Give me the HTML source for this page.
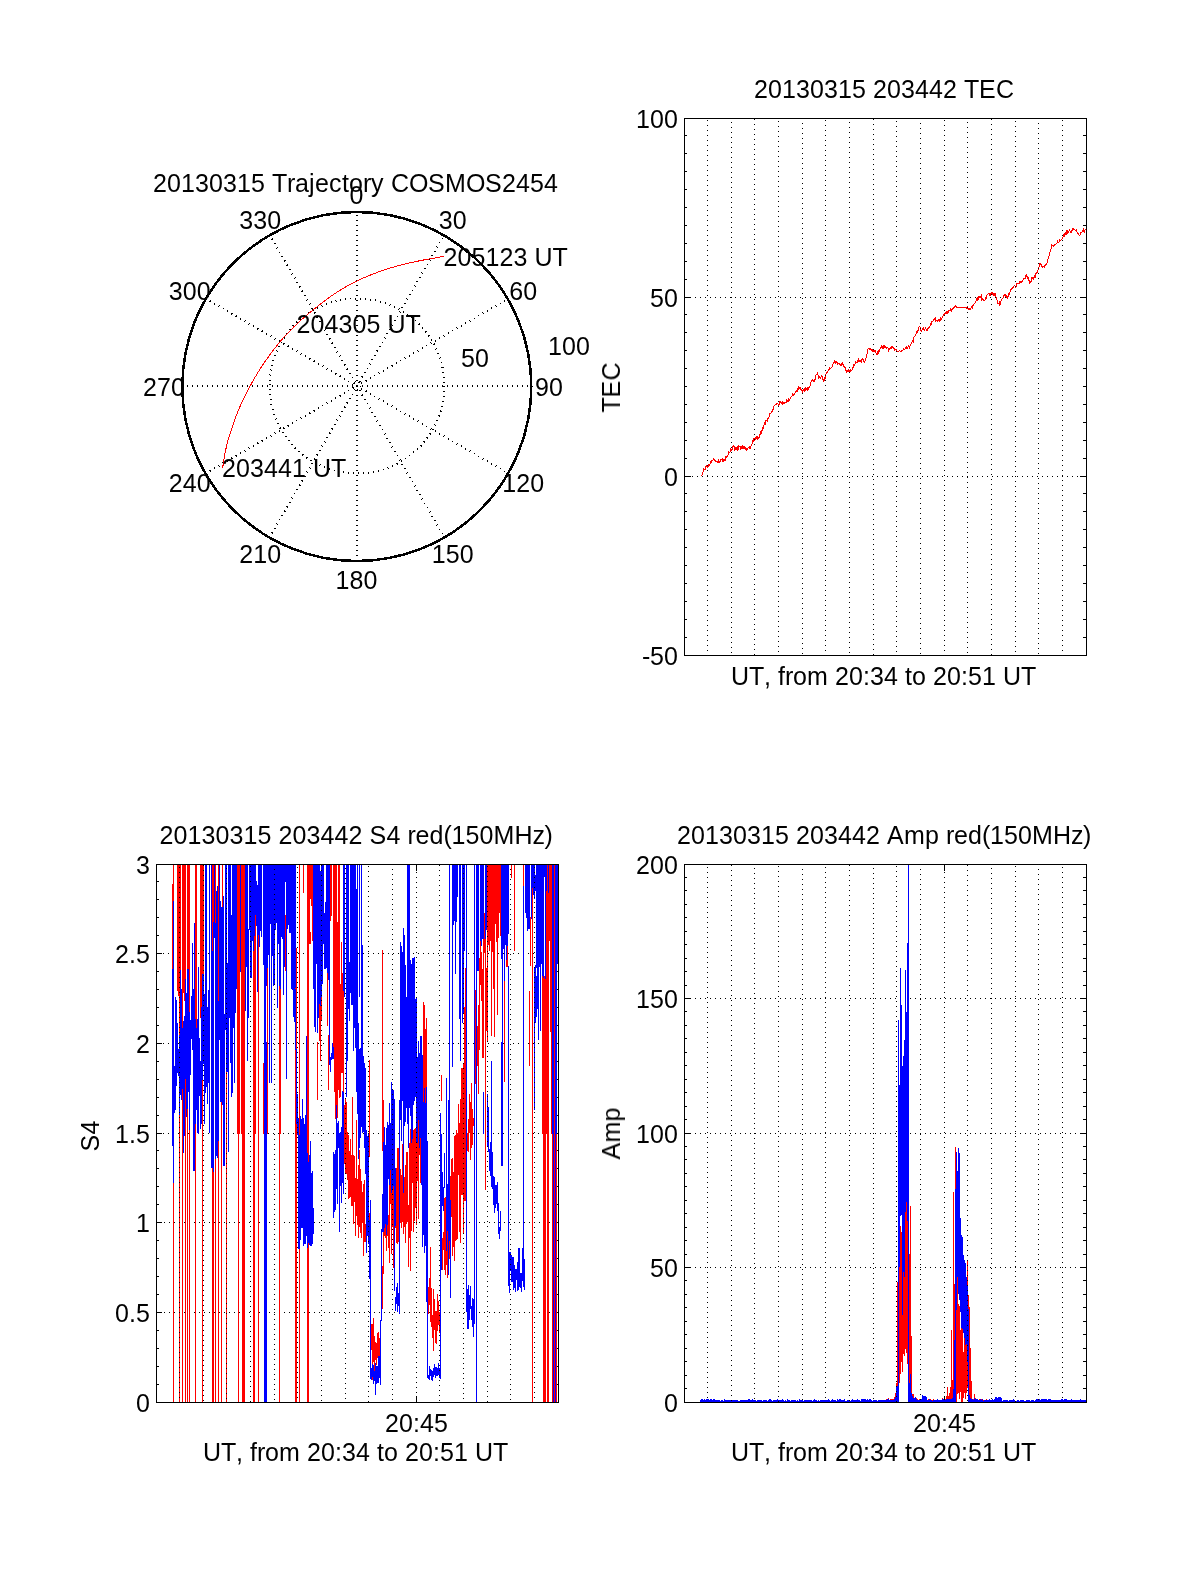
<!DOCTYPE html>
<html><head><meta charset="utf-8"><title>figure</title>
<style>
html,body{margin:0;padding:0;background:#fff;}
svg{display:block;}
text{font-family:"Liberation Sans",sans-serif;fill:#000;font-kerning:none;white-space:pre;}
.tx{opacity:0.999;}
.ax{fill:#000;shape-rendering:crispEdges;}
.dot{stroke:#000;stroke-width:1;stroke-dasharray:1 4;shape-rendering:crispEdges;fill:none;}
.r{fill:#f00;shape-rendering:crispEdges;}
.b{fill:#00f;shape-rendering:crispEdges;}
.pdot{stroke:#000;stroke-width:2;stroke-dasharray:1 4;fill:none;shape-rendering:crispEdges;}
.rl{stroke:#f00;stroke-width:1;fill:none;shape-rendering:crispEdges;}
.bl{stroke:#00f;stroke-width:1;fill:none;shape-rendering:crispEdges;}
</style></head><body>
<svg width="1200" height="1575" viewBox="0 0 1200 1575">
<rect x="0" y="0" width="1200" height="1575" fill="#fff"/>
<line class="dot" x1="695" y1="297.5" x2="1080" y2="297.5"/>
<rect class="ax" x="685" y="297" width="6" height="1"/>
<rect class="ax" x="1080" y="297" width="6" height="1"/>
<line class="dot" x1="692" y1="476.5" x2="1080" y2="476.5"/>
<rect class="ax" x="685" y="476" width="6" height="1"/>
<rect class="ax" x="1080" y="476" width="6" height="1"/>
<rect class="ax" x="685" y="135" width="2" height="1"/>
<rect class="ax" x="1083" y="135" width="3" height="1"/>
<rect class="ax" x="685" y="153" width="2" height="1"/>
<rect class="ax" x="1083" y="153" width="3" height="1"/>
<rect class="ax" x="685" y="171" width="2" height="1"/>
<rect class="ax" x="1083" y="171" width="3" height="1"/>
<rect class="ax" x="685" y="189" width="2" height="1"/>
<rect class="ax" x="1083" y="189" width="3" height="1"/>
<rect class="ax" x="685" y="207" width="2" height="1"/>
<rect class="ax" x="1083" y="207" width="3" height="1"/>
<rect class="ax" x="685" y="225" width="2" height="1"/>
<rect class="ax" x="1083" y="225" width="3" height="1"/>
<rect class="ax" x="685" y="243" width="2" height="1"/>
<rect class="ax" x="1083" y="243" width="3" height="1"/>
<rect class="ax" x="685" y="261" width="2" height="1"/>
<rect class="ax" x="1083" y="261" width="3" height="1"/>
<rect class="ax" x="685" y="279" width="2" height="1"/>
<rect class="ax" x="1083" y="279" width="3" height="1"/>
<rect class="ax" x="685" y="314" width="2" height="1"/>
<rect class="ax" x="1083" y="314" width="3" height="1"/>
<rect class="ax" x="685" y="332" width="2" height="1"/>
<rect class="ax" x="1083" y="332" width="3" height="1"/>
<rect class="ax" x="685" y="350" width="2" height="1"/>
<rect class="ax" x="1083" y="350" width="3" height="1"/>
<rect class="ax" x="685" y="368" width="2" height="1"/>
<rect class="ax" x="1083" y="368" width="3" height="1"/>
<rect class="ax" x="685" y="386" width="2" height="1"/>
<rect class="ax" x="1083" y="386" width="3" height="1"/>
<rect class="ax" x="685" y="404" width="2" height="1"/>
<rect class="ax" x="1083" y="404" width="3" height="1"/>
<rect class="ax" x="685" y="422" width="2" height="1"/>
<rect class="ax" x="1083" y="422" width="3" height="1"/>
<rect class="ax" x="685" y="440" width="2" height="1"/>
<rect class="ax" x="1083" y="440" width="3" height="1"/>
<rect class="ax" x="685" y="458" width="2" height="1"/>
<rect class="ax" x="1083" y="458" width="3" height="1"/>
<rect class="ax" x="685" y="493" width="2" height="1"/>
<rect class="ax" x="1083" y="493" width="3" height="1"/>
<rect class="ax" x="685" y="511" width="2" height="1"/>
<rect class="ax" x="1083" y="511" width="3" height="1"/>
<rect class="ax" x="685" y="529" width="2" height="1"/>
<rect class="ax" x="1083" y="529" width="3" height="1"/>
<rect class="ax" x="685" y="547" width="2" height="1"/>
<rect class="ax" x="1083" y="547" width="3" height="1"/>
<rect class="ax" x="685" y="565" width="2" height="1"/>
<rect class="ax" x="1083" y="565" width="3" height="1"/>
<rect class="ax" x="685" y="583" width="2" height="1"/>
<rect class="ax" x="1083" y="583" width="3" height="1"/>
<rect class="ax" x="685" y="601" width="2" height="1"/>
<rect class="ax" x="1083" y="601" width="3" height="1"/>
<rect class="ax" x="685" y="619" width="2" height="1"/>
<rect class="ax" x="1083" y="619" width="3" height="1"/>
<rect class="ax" x="685" y="637" width="2" height="1"/>
<rect class="ax" x="1083" y="637" width="3" height="1"/>
<polyline class="rl" points="700.8,476.5 701.3,475.8 701.8,475.8 702.3,473.2 702.8,472.2 703.3,471.3 703.8,468.9 704.3,469.3 704.8,469.2 705.3,469.2 705.8,466.5 706.3,466.7 706.8,465.5 707.3,467.3 707.8,466.4 708.3,463.8 708.8,466.3 709.3,465.8 709.8,464.3 710.3,463.7 710.8,461.7 711.3,460.8 711.8,462.0 712.3,460.1 712.8,460.1 713.3,459.9 713.8,458.8 714.3,459.8 714.8,459.8 715.3,461.4 715.8,460.7 716.3,461.4 716.8,461.2 717.3,462.0 717.8,461.2 718.3,460.4 718.8,462.6 719.3,462.4 719.8,461.7 720.3,461.1 720.8,459.7 721.3,459.4 721.8,459.6 722.3,458.9 722.8,461.2 723.3,460.0 723.8,461.4 724.3,459.9 724.8,460.9 725.3,459.8 725.8,456.2 726.3,456.1 726.8,457.5 727.3,455.2 727.8,456.0 728.3,453.5 728.8,451.8 729.3,452.9 729.8,452.7 730.3,450.3 730.8,449.1 731.3,449.3 731.8,450.7 732.3,449.4 732.8,446.8 733.3,446.6 733.8,445.7 734.3,446.2 734.8,449.2 735.3,447.9 735.8,449.7 736.3,449.4 736.8,448.1 737.3,449.5 737.8,447.1 738.3,448.4 738.8,446.3 739.3,446.8 739.8,446.0 740.3,446.3 740.8,448.6 741.3,448.1 741.8,446.6 742.3,448.5 742.8,446.4 743.3,447.0 743.8,448.6 744.3,448.0 744.8,446.6 745.3,449.7 745.8,447.6 746.3,448.0 746.8,450.0 747.3,448.6 747.8,448.3 748.3,447.3 748.8,447.1 749.3,448.4 749.8,447.1 750.3,448.0 750.8,446.5 751.3,445.2 751.8,445.3 752.3,442.3 752.8,441.0 753.3,441.4 753.8,438.8 754.3,438.4 754.8,440.5 755.3,439.8 755.8,437.6 756.3,437.1 756.8,438.5 757.3,438.9 757.8,436.4 758.3,438.7 758.8,438.4 759.3,437.3 759.8,435.5 760.3,433.3 760.8,431.9 761.3,433.6 761.8,430.1 762.3,430.2 762.8,427.4 763.3,427.8 763.8,425.7 764.3,423.7 764.8,422.5 765.3,423.5 765.8,420.7 766.3,420.4 766.8,420.7 767.3,420.9 767.8,419.3 768.3,417.4 768.8,418.5 769.3,415.3 769.8,413.8 770.3,413.7 770.8,413.5 771.3,411.6 771.8,411.2 772.3,411.1 772.8,411.0 773.3,407.6 773.8,406.2 774.3,405.9 774.8,405.5 775.3,404.6 775.8,404.9 776.3,404.8 776.8,403.5 777.3,403.4 777.8,403.0 778.3,405.3 778.8,404.1 779.3,404.5 779.8,401.0 780.3,402.4 780.8,402.4 781.3,403.7 781.8,402.9 782.3,405.3 782.8,402.0 783.3,403.1 783.8,403.4 784.3,403.6 784.8,402.7 785.3,402.3 785.8,402.2 786.3,402.3 786.8,400.3 787.3,401.0 787.8,401.4 788.3,401.1 788.8,399.3 789.3,400.3 789.8,400.1 790.3,398.4 790.8,397.8 791.3,396.3 791.8,396.2 792.3,395.6 792.8,393.5 793.3,394.7 793.8,395.4 794.3,394.5 794.8,393.5 795.3,391.9 795.8,392.6 796.3,391.5 796.8,390.5 797.3,391.2 797.8,388.2 798.3,389.7 798.8,386.8 799.3,388.1 799.8,387.6 800.3,387.4 800.8,389.4 801.3,389.4 801.8,390.3 802.3,391.9 802.8,390.4 803.3,389.7 803.8,390.2 804.3,390.9 804.8,388.8 805.3,388.2 805.8,390.1 806.3,389.1 806.8,388.4 807.3,389.9 807.8,388.0 808.3,389.1 808.8,387.6 809.3,387.1 809.8,386.7 810.3,385.5 810.8,383.8 811.3,380.6 811.8,381.2 812.3,380.2 812.8,379.5 813.3,380.6 813.8,381.6 814.3,381.3 814.8,379.6 815.3,379.2 815.8,375.8 816.3,374.3 816.8,374.0 817.3,373.2 817.8,374.2 818.3,376.0 818.8,377.9 819.3,377.3 819.8,376.5 820.3,377.9 820.8,378.2 821.3,376.2 821.8,375.6 822.3,376.6 822.8,380.4 823.3,378.8 823.8,382.1 824.3,380.2 824.8,378.0 825.3,378.1 825.8,374.2 826.3,373.2 826.8,372.8 827.3,370.7 827.8,372.6 828.3,370.0 828.8,369.1 829.3,368.1 829.8,369.4 830.3,368.1 830.8,368.1 831.3,367.5 831.8,367.2 832.3,366.9 832.8,365.3 833.3,363.0 833.8,363.2 834.3,361.5 834.8,360.7 835.3,362.4 835.8,363.3 836.3,361.7 836.8,362.2 837.3,362.6 837.8,363.9 838.3,363.4 838.8,363.8 839.3,364.4 839.8,363.4 840.3,364.8 840.8,365.2 841.3,362.7 841.8,365.5 842.3,365.0 842.8,363.2 843.3,364.4 843.8,365.8 844.3,367.6 844.8,366.8 845.3,368.4 845.8,370.3 846.3,370.9 846.8,372.3 847.3,370.7 847.8,371.2 848.3,369.7 848.8,371.3 849.3,371.5 849.8,370.9 850.3,371.1 850.8,369.4 851.3,370.8 851.8,370.2 852.3,369.3 852.8,367.1 853.3,367.1 853.8,364.8 854.3,365.8 854.8,365.1 855.3,363.0 855.8,361.7 856.3,362.3 856.8,362.2 857.3,362.4 857.8,361.0 858.3,359.6 858.8,362.2 859.3,359.9 859.8,362.3 860.3,360.4 860.8,361.0 861.3,362.5 861.8,359.6 862.3,358.9 862.8,359.2 863.3,359.9 863.8,361.5 864.3,362.2 864.8,362.0 865.3,359.5 865.8,360.0 866.3,356.2 866.8,354.9 867.3,353.2 867.8,349.7 868.3,348.3 868.8,348.4 869.3,348.3 869.8,349.7 870.3,349.1 870.8,348.6 871.3,349.2 871.8,351.0 872.3,351.3 872.8,349.2 873.3,351.4 873.8,351.9 874.3,350.7 874.8,351.6 875.3,351.1 875.8,352.9 876.3,353.5 876.8,354.5 877.3,352.7 877.8,354.7 878.3,352.3 878.8,350.9 879.3,351.2 879.8,349.4 880.3,348.2 880.8,348.2 881.3,346.1 881.8,347.5 882.3,347.0 882.8,348.6 883.3,348.4 883.8,346.3 884.3,346.9 884.8,345.8 885.3,346.8 885.8,348.0 886.3,348.3 886.8,347.3 887.3,347.3 887.8,347.4 888.3,349.3 888.8,350.8 889.3,348.7 889.8,350.3 890.3,347.4 890.8,347.5 891.3,347.1 891.8,348.1 892.3,346.4 892.8,347.0 893.3,348.4 893.8,347.2 894.3,349.7 894.8,348.3 895.3,350.0 895.8,349.6 896.3,349.8 896.8,351.3 897.3,351.4 897.8,351.7 898.3,351.9 898.8,352.0 899.3,350.5 899.8,350.4 900.3,351.4 900.8,351.2 901.3,350.5 901.8,351.3 902.3,350.2 902.8,350.8 903.3,348.5 903.8,349.9 904.3,349.9 904.8,349.9 905.3,347.8 905.8,347.5 906.3,349.2 906.8,346.6 907.3,348.8 907.8,348.1 908.3,345.4 908.8,345.9 909.3,348.2 909.8,347.4 910.3,344.5 910.8,344.4 911.3,342.4 911.8,343.2 912.3,340.7 912.8,341.2 913.3,341.8 913.8,337.8 914.3,336.5 914.8,336.1 915.3,335.7 915.8,335.3 916.3,331.9 916.8,332.5 917.3,332.6 917.8,330.9 918.3,330.5 918.8,327.9 919.3,326.6 919.8,326.2 920.3,327.2 920.8,330.0 921.3,331.1 921.8,331.0 922.3,329.0 922.8,328.5 923.3,328.0 923.8,329.4 924.3,330.1 924.8,330.1 925.3,327.6 925.8,327.7 926.3,330.8 926.8,329.3 927.3,329.9 927.8,328.1 928.3,328.1 928.8,327.9 929.3,327.2 929.8,327.0 930.3,324.0 930.8,324.9 931.3,324.2 931.8,321.5 932.3,321.8 932.8,322.1 933.3,320.5 933.8,319.2 934.3,318.5 934.8,319.7 935.3,318.3 935.8,321.2 936.3,321.0 936.8,320.8 937.3,321.3 937.8,320.5 938.3,319.7 938.8,320.2 939.3,319.8 939.8,321.2 940.3,320.3 940.8,317.8 941.3,319.2 941.8,318.0 942.3,317.4 942.8,316.8 943.3,314.8 943.8,315.6 944.3,314.9 944.8,313.6 945.3,313.1 945.8,312.4 946.3,311.6 946.8,313.3 947.3,311.9 947.8,313.1 948.3,312.8 948.8,310.6 949.3,310.9 949.8,311.0 950.3,310.5 950.8,309.0 951.3,311.1 951.8,309.9 952.3,308.6 952.8,309.4 953.3,308.8 953.8,308.1 954.3,306.7 954.8,307.8 955.3,305.7 955.8,305.0 956.3,307.4 956.8,307.0 957.3,307.0 957.8,307.0 958.3,307.0 958.8,307.0 959.3,307.0 959.8,307.0 960.3,307.0 960.8,307.0 961.3,307.0 961.8,307.0 962.3,307.0 962.8,307.0 963.3,307.0 963.8,307.0 964.3,307.0 964.8,307.0 965.3,307.0 965.8,307.0 966.3,307.0 966.8,308.9 967.3,306.3 967.8,308.6 968.3,309.4 968.8,308.2 969.3,309.1 969.8,308.4 970.3,309.2 970.8,308.8 971.3,306.9 971.8,306.5 972.3,307.6 972.8,305.4 973.3,304.3 973.8,305.1 974.3,303.2 974.8,303.9 975.3,302.1 975.8,302.0 976.3,299.0 976.8,300.0 977.3,300.1 977.8,297.4 978.3,299.8 978.8,297.0 979.3,297.5 979.8,296.2 980.3,296.8 980.8,297.7 981.3,296.4 981.8,299.7 982.3,298.5 982.8,299.4 983.3,300.1 983.8,299.9 984.3,300.1 984.8,300.5 985.3,299.3 985.8,297.6 986.3,298.2 986.8,296.0 987.3,294.3 987.8,294.2 988.3,293.3 988.8,293.4 989.3,295.1 989.8,293.7 990.3,295.1 990.8,294.3 991.3,291.9 991.8,294.9 992.3,294.8 992.8,292.1 993.3,294.8 993.8,293.4 994.3,293.6 994.8,295.2 995.3,293.0 995.8,295.4 996.3,298.7 996.8,300.0 997.3,300.8 997.8,303.2 998.3,303.4 998.8,303.4 999.3,302.5 999.8,304.9 1000.3,304.2 1000.8,302.1 1001.3,300.2 1001.8,300.4 1002.3,298.1 1002.8,298.2 1003.3,297.9 1003.8,296.2 1004.3,294.6 1004.8,294.7 1005.3,294.6 1005.8,296.3 1006.3,296.0 1006.8,298.0 1007.3,298.3 1007.8,297.8 1008.3,294.9 1008.8,293.3 1009.3,294.5 1009.8,292.9 1010.3,291.5 1010.8,289.9 1011.3,288.8 1011.8,289.4 1012.3,288.3 1012.8,287.6 1013.3,287.0 1013.8,287.0 1014.3,285.0 1014.8,285.0 1015.3,287.1 1015.8,286.7 1016.3,286.4 1016.8,283.4 1017.3,283.2 1017.8,283.6 1018.3,283.8 1018.8,284.1 1019.3,282.2 1019.8,283.3 1020.3,281.5 1020.8,281.2 1021.3,282.6 1021.8,281.7 1022.3,281.4 1022.8,280.1 1023.3,279.9 1023.8,278.6 1024.3,278.4 1024.8,279.0 1025.3,278.5 1025.8,275.4 1026.3,274.8 1026.8,276.3 1027.3,276.7 1027.8,278.6 1028.3,278.2 1028.8,280.3 1029.3,281.1 1029.8,284.3 1030.3,281.7 1030.8,281.4 1031.3,281.2 1031.8,277.9 1032.3,277.7 1032.8,278.4 1033.3,279.1 1033.8,277.7 1034.3,277.6 1034.8,276.1 1035.3,277.5 1035.8,273.9 1036.3,272.8 1036.8,273.2 1037.3,271.9 1037.8,271.1 1038.3,268.3 1038.8,268.3 1039.3,264.6 1039.8,263.5 1040.3,264.3 1040.8,263.3 1041.3,264.8 1041.8,266.9 1042.3,267.6 1042.8,266.8 1043.3,266.1 1043.8,266.5 1044.3,267.3 1044.8,265.9 1045.3,264.8 1045.8,265.9 1046.3,263.9 1046.8,263.5 1047.3,262.0 1047.8,260.4 1048.3,257.6 1048.8,257.5 1049.3,254.6 1049.8,253.1 1050.3,250.8 1050.8,249.9 1051.3,247.2 1051.8,244.8 1052.3,245.4 1052.8,245.7 1053.3,245.9 1053.8,246.3 1054.3,245.5 1054.8,244.2 1055.3,244.7 1055.8,244.7 1056.3,243.2 1056.8,243.5 1057.3,242.4 1057.8,240.9 1058.3,242.6 1058.8,242.7 1059.3,240.5 1059.8,239.5 1060.3,240.7 1060.8,240.1 1061.3,239.5 1061.8,240.0 1062.3,238.3 1062.8,238.1 1063.3,235.1 1063.8,236.1 1064.3,236.4 1064.8,233.7 1065.3,233.2 1065.8,234.8 1066.3,234.8 1066.8,231.7 1067.3,232.9 1067.8,230.9 1068.3,232.3 1068.8,231.5 1069.3,229.7 1069.8,230.0 1070.3,232.7 1070.8,232.5 1071.3,232.4 1071.8,230.3 1072.3,229.2 1072.8,230.4 1073.3,229.2 1073.8,228.8 1074.3,229.2 1074.8,230.0 1075.3,230.1 1075.8,231.0 1076.3,229.9 1076.8,231.9 1077.3,232.1 1077.8,233.3 1078.3,233.8 1078.8,234.6 1079.3,235.4 1079.8,235.3 1080.3,233.7 1080.8,232.7 1081.3,232.7 1081.8,232.4 1082.3,230.5 1082.8,230.5 1083.3,229.5 1083.8,231.4 1084.3,232.1 1084.8,230.0 1085.3,229.3 1085.8,229.4"/>
<line class="dot" x1="707.5" y1="120" x2="707.5" y2="655"/>
<line class="dot" x1="731.5" y1="122" x2="731.5" y2="655"/>
<line class="dot" x1="754.5" y1="119" x2="754.5" y2="655"/>
<line class="dot" x1="778.5" y1="121" x2="778.5" y2="655"/>
<line class="dot" x1="802.5" y1="123" x2="802.5" y2="655"/>
<line class="dot" x1="825.5" y1="120" x2="825.5" y2="655"/>
<line class="dot" x1="849.5" y1="122" x2="849.5" y2="655"/>
<line class="dot" x1="873.5" y1="119" x2="873.5" y2="655"/>
<line class="dot" x1="896.5" y1="121" x2="896.5" y2="655"/>
<line class="dot" x1="920.5" y1="123" x2="920.5" y2="655"/>
<line class="dot" x1="944.5" y1="120" x2="944.5" y2="655"/>
<line class="dot" x1="967.5" y1="122" x2="967.5" y2="655"/>
<line class="dot" x1="991.5" y1="119" x2="991.5" y2="655"/>
<line class="dot" x1="1015.5" y1="121" x2="1015.5" y2="655"/>
<line class="dot" x1="1038.5" y1="123" x2="1038.5" y2="655"/>
<line class="dot" x1="1062.5" y1="120" x2="1062.5" y2="655"/>
<rect class="ax" x="684" y="118" width="403" height="1"/>
<rect class="ax" x="684" y="655" width="403" height="1"/>
<rect class="ax" x="684" y="118" width="1" height="538"/>
<rect class="ax" x="1086" y="118" width="1" height="538"/>
<line class="dot" x1="163" y1="953.5" x2="552" y2="953.5"/>
<rect class="ax" x="157" y="953" width="5" height="1"/>
<rect class="ax" x="552" y="953" width="6" height="1"/>
<line class="dot" x1="163" y1="1043.5" x2="552" y2="1043.5"/>
<rect class="ax" x="157" y="1043" width="5" height="1"/>
<rect class="ax" x="552" y="1043" width="6" height="1"/>
<line class="dot" x1="163" y1="1133.5" x2="552" y2="1133.5"/>
<rect class="ax" x="157" y="1133" width="5" height="1"/>
<rect class="ax" x="552" y="1133" width="6" height="1"/>
<line class="dot" x1="159" y1="1222.5" x2="552" y2="1222.5"/>
<rect class="ax" x="157" y="1222" width="5" height="1"/>
<rect class="ax" x="552" y="1222" width="6" height="1"/>
<line class="dot" x1="159" y1="1312.5" x2="552" y2="1312.5"/>
<rect class="ax" x="157" y="1312" width="5" height="1"/>
<rect class="ax" x="552" y="1312" width="6" height="1"/>
<rect class="ax" x="157" y="881" width="2" height="1"/>
<rect class="ax" x="555" y="881" width="3" height="1"/>
<rect class="ax" x="157" y="899" width="2" height="1"/>
<rect class="ax" x="555" y="899" width="3" height="1"/>
<rect class="ax" x="157" y="917" width="2" height="1"/>
<rect class="ax" x="555" y="917" width="3" height="1"/>
<rect class="ax" x="157" y="935" width="2" height="1"/>
<rect class="ax" x="555" y="935" width="3" height="1"/>
<rect class="ax" x="157" y="971" width="2" height="1"/>
<rect class="ax" x="555" y="971" width="3" height="1"/>
<rect class="ax" x="157" y="989" width="2" height="1"/>
<rect class="ax" x="555" y="989" width="3" height="1"/>
<rect class="ax" x="157" y="1007" width="2" height="1"/>
<rect class="ax" x="555" y="1007" width="3" height="1"/>
<rect class="ax" x="157" y="1025" width="2" height="1"/>
<rect class="ax" x="555" y="1025" width="3" height="1"/>
<rect class="ax" x="157" y="1061" width="2" height="1"/>
<rect class="ax" x="555" y="1061" width="3" height="1"/>
<rect class="ax" x="157" y="1079" width="2" height="1"/>
<rect class="ax" x="555" y="1079" width="3" height="1"/>
<rect class="ax" x="157" y="1097" width="2" height="1"/>
<rect class="ax" x="555" y="1097" width="3" height="1"/>
<rect class="ax" x="157" y="1115" width="2" height="1"/>
<rect class="ax" x="555" y="1115" width="3" height="1"/>
<rect class="ax" x="157" y="1150" width="2" height="1"/>
<rect class="ax" x="555" y="1150" width="3" height="1"/>
<rect class="ax" x="157" y="1168" width="2" height="1"/>
<rect class="ax" x="555" y="1168" width="3" height="1"/>
<rect class="ax" x="157" y="1186" width="2" height="1"/>
<rect class="ax" x="555" y="1186" width="3" height="1"/>
<rect class="ax" x="157" y="1204" width="2" height="1"/>
<rect class="ax" x="555" y="1204" width="3" height="1"/>
<rect class="ax" x="157" y="1240" width="2" height="1"/>
<rect class="ax" x="555" y="1240" width="3" height="1"/>
<rect class="ax" x="157" y="1258" width="2" height="1"/>
<rect class="ax" x="555" y="1258" width="3" height="1"/>
<rect class="ax" x="157" y="1276" width="2" height="1"/>
<rect class="ax" x="555" y="1276" width="3" height="1"/>
<rect class="ax" x="157" y="1294" width="2" height="1"/>
<rect class="ax" x="555" y="1294" width="3" height="1"/>
<rect class="ax" x="157" y="1330" width="2" height="1"/>
<rect class="ax" x="555" y="1330" width="3" height="1"/>
<rect class="ax" x="157" y="1348" width="2" height="1"/>
<rect class="ax" x="555" y="1348" width="3" height="1"/>
<rect class="ax" x="157" y="1366" width="2" height="1"/>
<rect class="ax" x="555" y="1366" width="3" height="1"/>
<rect class="ax" x="157" y="1384" width="2" height="1"/>
<rect class="ax" x="555" y="1384" width="3" height="1"/>
<rect class="ax" x="416" y="1396" width="1" height="6"/>
<rect class="ax" x="416" y="865" width="1" height="6"/>
<path class="r" d="M172 884h1v85h-1zM173 865h1v36h-1zM173 1183h1v219h-1zM177 865h1v126h-1zM178 865h1v131h-1zM179 865h1v170h-1zM179 1115h1v287h-1zM180 865h1v105h-1zM182 865h1v163h-1zM182 1089h1v313h-1zM183 865h1v128h-1zM184 865h1v136h-1zM185 865h1v114h-1zM185 1079h1v323h-1zM187 865h1v104h-1zM187 1109h1v293h-1zM188 865h1v104h-1zM189 865h1v147h-1zM189 1130h1v272h-1zM195 865h1v154h-1zM195 1124h1v278h-1zM196 865h1v163h-1zM200 865h1v153h-1zM201 865h1v142h-1zM202 865h1v109h-1zM202 1080h1v322h-1zM203 865h1v109h-1zM212 865h1v86h-1zM212 1168h1v234h-1zM213 865h1v57h-1zM213 1172h1v230h-1zM215 865h1v58h-1zM215 1159h1v243h-1zM218 865h1v136h-1zM218 1141h1v261h-1zM221 1102h1v300h-1zM222 865h1v42h-1zM226 1072h1v330h-1zM237 865h1v269h-1zM238 865h1v537h-1zM239 865h1v269h-1zM241 865h1v269h-1zM242 865h1v537h-1zM243 865h1v537h-1zM244 865h1v537h-1zM253 951h1v451h-1zM254 936h1v466h-1zM255 915h1v219h-1zM258 935h1v467h-1zM263 1063h1v71h-1zM267 968h1v166h-1zM279 986h1v416h-1zM280 989h1v145h-1zM285 915h1v56h-1zM295 988h1v1h-1zM295 1050h1v352h-1zM296 948h1v101h-1zM296 1124h1v278h-1zM299 865h1v270h-1zM299 1249h1v153h-1zM303 865h1v28h-1zM307 865h1v288h-1zM307 1248h1v154h-1zM308 865h1v297h-1zM308 1243h1v159h-1zM309 865h1v79h-1zM310 865h1v34h-1zM310 932h1v12h-1zM311 865h1v41h-1zM312 865h1v76h-1zM317 1042h1v58h-1zM319 1004h1v37h-1zM320 1006h1v55h-1zM321 997h1v24h-1zM327 973h1v53h-1zM328 1035h1v55h-1zM330 865h1v56h-1zM331 865h1v51h-1zM333 865h1v182h-1zM334 865h1v227h-1zM335 865h1v254h-1zM336 865h1v240h-1zM337 922h1v196h-1zM338 865h1v225h-1zM339 865h1v233h-1zM340 984h1v113h-1zM341 942h1v131h-1zM342 973h1v100h-1zM343 991h1v101h-1zM344 1105h1v59h-1zM345 1098h1v76h-1zM346 1102h1v72h-1zM347 1132h1v48h-1zM348 1135h1v64h-1zM349 1151h1v47h-1zM350 1139h1v58h-1zM351 1155h1v51h-1zM352 1097h1v109h-1zM353 1155h1v69h-1zM354 1156h1v46h-1zM355 1178h1v58h-1zM356 1120h1v96h-1zM357 1179h1v46h-1zM358 1165h1v73h-1zM359 1150h1v77h-1zM360 1169h1v64h-1zM361 1181h1v57h-1zM362 1192h1v31h-1zM363 1184h1v72h-1zM364 1180h1v62h-1zM365 1224h1v18h-1zM369 1060h1v97h-1zM369 1213h1v7h-1zM371 1324h1v26h-1zM372 1324h1v40h-1zM372 1377h1v3h-1zM373 1318h1v44h-1zM374 1336h1v35h-1zM375 1342h1v18h-1zM376 1343h1v22h-1zM377 1333h1v25h-1zM378 1332h1v24h-1zM379 1338h1v18h-1zM382 950h1v201h-1zM382 1266h1v43h-1zM383 1100h1v42h-1zM383 1232h1v42h-1zM384 1228h1v8h-1zM385 1224h1v14h-1zM386 1235h1v16h-1zM387 1225h1v11h-1zM388 1215h1v33h-1zM389 1185h1v78h-1zM390 1170h1v34h-1zM391 1193h1v61h-1zM392 1189h1v38h-1zM393 1186h1v82h-1zM395 1226h1v2h-1zM396 1168h1v75h-1zM397 1148h1v96h-1zM398 1148h1v94h-1zM400 1169h1v54h-1zM401 1175h1v53h-1zM402 1144h1v78h-1zM403 1193h1v41h-1zM404 1177h1v50h-1zM405 1165h1v78h-1zM406 1152h1v72h-1zM407 1152h1v70h-1zM408 1205h1v62h-1zM409 1143h1v95h-1zM410 1129h1v142h-1zM411 1143h1v88h-1zM412 1139h1v44h-1zM413 1130h1v102h-1zM414 1129h1v92h-1zM415 1128h1v80h-1zM416 1142h1v83h-1zM417 1143h1v38h-1zM418 1120h1v99h-1zM419 1148h1v7h-1zM420 1138h1v45h-1zM423 1002h1v100h-1zM424 1005h1v83h-1zM425 1029h1v74h-1zM426 1018h1v69h-1zM428 1287h1v27h-1zM429 1278h1v27h-1zM430 1247h1v75h-1zM431 1288h1v39h-1zM432 1315h1v23h-1zM433 1289h1v62h-1zM434 1299h1v31h-1zM435 1311h1v32h-1zM436 1311h1v33h-1zM437 1294h1v37h-1zM438 1301h1v24h-1zM439 1312h1v21h-1zM441 1075h1v26h-1zM442 1238h1v32h-1zM443 1232h1v18h-1zM444 1198h1v72h-1zM445 1197h1v78h-1zM446 1251h1v14h-1zM447 1231h1v47h-1zM449 1241h1v18h-1zM450 1176h1v24h-1zM451 1159h1v58h-1zM452 1158h1v98h-1zM453 1172h1v75h-1zM454 1136h1v125h-1zM455 1135h1v106h-1zM456 1130h1v110h-1zM457 1133h1v106h-1zM458 1104h1v71h-1zM459 1123h1v109h-1zM460 1099h1v144h-1zM461 1068h1v127h-1zM462 1068h1v127h-1zM463 1064h1v170h-1zM464 1007h1v194h-1zM465 968h1v233h-1zM467 1133h1v18h-1zM468 1119h1v33h-1zM469 1094h1v39h-1zM470 1102h1v58h-1zM471 1083h1v65h-1zM472 1109h1v36h-1zM473 1118h1v8h-1zM475 990h1v94h-1zM477 1026h1v40h-1zM478 1005h1v89h-1zM479 958h1v92h-1zM480 941h1v44h-1zM481 952h1v49h-1zM482 969h1v89h-1zM483 939h1v119h-1zM484 913h1v40h-1zM485 939h1v251h-1zM486 968h1v63h-1zM487 865h1v176h-1zM488 865h1v80h-1zM489 865h1v86h-1zM490 865h1v76h-1zM491 865h1v171h-1zM492 865h1v87h-1zM493 865h1v124h-1zM494 865h1v172h-1zM495 865h1v59h-1zM496 865h1v77h-1zM497 865h1v150h-1zM498 865h1v73h-1zM499 865h1v48h-1zM500 865h1v71h-1zM504 981h1v101h-1zM506 960h1v7h-1zM507 946h1v21h-1zM511 865h1v13h-1zM514 865h1v86h-1zM523 865h1v21h-1zM529 991h1v75h-1zM530 917h1v49h-1zM532 888h1v514h-1zM542 976h1v158h-1zM543 978h1v424h-1zM544 976h1v426h-1zM545 979h1v423h-1zM546 891h1v243h-1zM547 865h1v537h-1zM548 893h1v509h-1zM549 865h1v76h-1zM550 865h1v167h-1zM551 865h1v269h-1zM552 1134h1v268h-1zM554 865h1v537h-1zM556 1134h1v268h-1z"/>
<path class="b" d="M172 969h1v177h-1zM173 901h1v282h-1zM174 1066h1v47h-1zM175 997h1v113h-1zM176 1000h1v86h-1zM177 1023h1v50h-1zM178 1049h1v27h-1zM179 1035h1v80h-1zM180 970h1v125h-1zM181 989h1v111h-1zM182 1028h1v61h-1zM183 1021h1v132h-1zM184 1016h1v120h-1zM185 979h1v100h-1zM186 993h1v124h-1zM187 969h1v140h-1zM188 969h1v123h-1zM189 1012h1v118h-1zM190 1020h1v55h-1zM191 996h1v43h-1zM192 943h1v107h-1zM193 989h1v182h-1zM194 923h1v248h-1zM195 1019h1v105h-1zM196 1028h1v82h-1zM197 1019h1v114h-1zM198 967h1v167h-1zM199 1038h1v58h-1zM200 1061h1v68h-1zM201 1007h1v117h-1zM202 974h1v106h-1zM203 974h1v90h-1zM204 994h1v130h-1zM205 865h1v228h-1zM206 865h1v222h-1zM207 1007h1v97h-1zM208 990h1v93h-1zM209 865h1v268h-1zM211 865h1v303h-1zM212 951h1v217h-1zM213 922h1v250h-1zM214 865h1v73h-1zM215 923h1v236h-1zM216 891h1v265h-1zM217 886h1v272h-1zM218 1001h1v140h-1zM219 865h1v175h-1zM220 901h1v201h-1zM221 907h1v195h-1zM222 907h1v198h-1zM223 896h1v270h-1zM224 1014h1v152h-1zM225 865h1v165h-1zM226 865h1v207h-1zM227 963h1v109h-1zM228 865h1v287h-1zM229 865h1v153h-1zM230 865h1v198h-1zM231 915h1v182h-1zM232 865h1v228h-1zM233 865h1v163h-1zM234 865h1v218h-1zM235 865h1v148h-1zM236 865h1v124h-1zM240 865h1v107h-1zM245 865h1v146h-1zM246 865h1v102h-1zM247 865h1v196h-1zM248 929h1v89h-1zM249 865h1v65h-1zM250 865h1v113h-1zM251 865h1v113h-1zM252 865h1v76h-1zM253 865h1v86h-1zM254 865h1v71h-1zM255 865h1v50h-1zM256 881h1v45h-1zM257 885h1v107h-1zM258 865h1v70h-1zM259 865h1v82h-1zM260 865h1v66h-1zM261 865h1v72h-1zM263 865h1v100h-1zM264 865h1v537h-1zM265 865h1v537h-1zM266 865h1v121h-1zM266 1042h1v360h-1zM267 865h1v103h-1zM268 865h1v90h-1zM269 865h1v218h-1zM270 865h1v59h-1zM271 865h1v218h-1zM272 865h1v91h-1zM273 865h1v121h-1zM274 865h1v120h-1zM275 865h1v65h-1zM276 865h1v58h-1zM277 865h1v143h-1zM278 865h1v79h-1zM279 865h1v121h-1zM280 865h1v124h-1zM281 865h1v72h-1zM282 865h1v74h-1zM283 865h1v130h-1zM284 865h1v102h-1zM285 865h1v17h-1zM286 865h1v214h-1zM287 865h1v64h-1zM288 865h1v60h-1zM289 865h1v68h-1zM290 865h1v68h-1zM291 865h1v124h-1zM292 865h1v125h-1zM293 865h1v152h-1zM294 865h1v157h-1zM295 865h1v123h-1zM295 989h1v61h-1zM296 1049h1v75h-1zM297 1094h1v41h-1zM298 1118h1v131h-1zM299 1135h1v114h-1zM300 1116h1v124h-1zM301 1119h1v109h-1zM302 1099h1v129h-1zM303 1118h1v128h-1zM304 1124h1v120h-1zM305 1115h1v129h-1zM306 1036h1v200h-1zM307 1153h1v95h-1zM308 1162h1v81h-1zM309 1155h1v90h-1zM310 1141h1v105h-1zM311 1173h1v73h-1zM312 1171h1v73h-1zM313 865h1v124h-1zM313 1208h1v26h-1zM314 865h1v162h-1zM315 865h1v167h-1zM316 865h1v99h-1zM317 865h1v168h-1zM318 865h1v153h-1zM319 865h1v139h-1zM320 871h1v135h-1zM321 865h1v132h-1zM322 865h1v119h-1zM323 865h1v79h-1zM324 913h1v56h-1zM325 902h1v67h-1zM326 865h1v103h-1zM327 865h1v108h-1zM328 865h1v115h-1zM329 865h1v200h-1zM330 1057h1v15h-1zM331 1053h1v7h-1zM332 1043h1v16h-1zM333 1047h1v12h-1zM333 1152h1v66h-1zM334 1154h1v58h-1zM335 1150h1v60h-1zM336 1105h1v84h-1zM337 1123h1v81h-1zM338 1121h1v27h-1zM339 1133h1v99h-1zM340 1132h1v54h-1zM341 1127h1v76h-1zM342 1091h1v92h-1zM343 865h1v126h-1zM343 1092h1v102h-1zM344 865h1v132h-1zM346 865h1v232h-1zM347 865h1v196h-1zM348 865h1v144h-1zM349 962h1v59h-1zM350 865h1v128h-1zM351 865h1v140h-1zM352 865h1v140h-1zM353 865h1v186h-1zM354 865h1v163h-1zM355 865h1v183h-1zM356 889h1v203h-1zM357 865h1v249h-1zM358 1023h1v136h-1zM359 865h1v132h-1zM359 1049h1v99h-1zM360 1048h1v90h-1zM361 865h1v262h-1zM362 945h1v188h-1zM363 1056h1v76h-1zM364 1063h1v85h-1zM365 1068h1v106h-1zM366 1130h1v123h-1zM367 1136h1v100h-1zM368 1134h1v110h-1zM369 1220h1v59h-1zM370 1200h1v179h-1zM371 1368h1v12h-1zM372 1364h1v13h-1zM373 1365h1v19h-1zM374 1371h1v10h-1zM375 1363h1v32h-1zM376 1366h1v18h-1zM377 1366h1v17h-1zM378 1356h1v27h-1zM379 1356h1v22h-1zM380 1320h1v65h-1zM381 1229h1v92h-1zM382 1194h1v38h-1zM383 1142h1v90h-1zM384 1127h1v101h-1zM385 1145h1v79h-1zM386 1128h1v107h-1zM387 1122h1v103h-1zM388 1125h1v54h-1zM389 1103h1v82h-1zM390 1123h1v47h-1zM391 1082h1v111h-1zM392 1089h1v100h-1zM393 1090h1v96h-1zM394 1099h1v192h-1zM395 1168h1v58h-1zM395 1297h1v14h-1zM396 1287h1v17h-1zM397 1283h1v29h-1zM398 1293h1v13h-1zM399 1100h1v214h-1zM400 942h1v178h-1zM401 946h1v195h-1zM402 952h1v149h-1zM403 928h1v265h-1zM404 935h1v191h-1zM405 965h1v157h-1zM406 997h1v111h-1zM407 865h1v259h-1zM408 865h1v283h-1zM409 865h1v243h-1zM410 960h1v156h-1zM411 964h1v179h-1zM412 958h1v181h-1zM413 958h1v147h-1zM414 957h1v144h-1zM415 999h1v98h-1zM416 998h1v144h-1zM417 1057h1v86h-1zM418 1041h1v79h-1zM419 1053h1v95h-1zM420 1036h1v102h-1zM421 1036h1v149h-1zM422 1055h1v192h-1zM423 1102h1v133h-1zM424 1088h1v165h-1zM425 1103h1v143h-1zM426 1087h1v215h-1zM427 1141h1v237h-1zM428 1375h1v4h-1zM429 1366h1v14h-1zM430 1369h1v7h-1zM431 1370h1v10h-1zM432 1371h1v10h-1zM433 1368h1v9h-1zM434 1364h1v11h-1zM435 1367h1v11h-1zM436 1367h1v9h-1zM437 1368h1v8h-1zM438 1363h1v12h-1zM439 1368h1v10h-1zM440 1113h1v266h-1zM441 1134h1v136h-1zM442 1172h1v34h-1zM443 1187h1v24h-1zM444 1153h1v35h-1zM446 1078h1v173h-1zM447 1184h1v47h-1zM448 1100h1v175h-1zM449 865h1v376h-1zM450 1200h1v98h-1zM452 865h1v202h-1zM453 865h1v60h-1zM454 865h1v56h-1zM455 865h1v109h-1zM456 865h1v57h-1zM457 865h1v32h-1zM459 865h1v154h-1zM460 865h1v196h-1zM462 865h1v158h-1zM463 865h1v148h-1zM464 865h1v86h-1zM466 865h1v447h-1zM467 1289h1v40h-1zM468 1285h1v44h-1zM469 1295h1v25h-1zM470 1286h1v23h-1zM471 1306h1v14h-1zM472 1298h1v29h-1zM473 1299h1v38h-1zM474 865h1v459h-1zM476 865h1v537h-1zM477 865h1v106h-1zM478 865h1v106h-1zM480 865h1v76h-1zM481 865h1v81h-1zM482 865h1v74h-1zM483 865h1v74h-1zM483 1092h1v42h-1zM485 865h1v74h-1zM486 865h1v65h-1zM487 1094h1v52h-1zM488 1107h1v45h-1zM489 1149h1v22h-1zM490 1142h1v34h-1zM491 1061h1v126h-1zM492 1152h1v37h-1zM493 1176h1v29h-1zM494 1177h1v36h-1zM495 1185h1v23h-1zM496 1185h1v19h-1zM497 1182h1v29h-1zM498 1203h1v31h-1zM499 1227h1v12h-1zM500 1211h1v20h-1zM501 865h1v94h-1zM501 1042h1v124h-1zM502 865h1v301h-1zM503 865h1v84h-1zM504 865h1v116h-1zM505 865h1v80h-1zM506 865h1v95h-1zM507 865h1v81h-1zM508 865h1v69h-1zM508 966h1v320h-1zM509 1252h1v41h-1zM510 1252h1v19h-1zM511 1255h1v27h-1zM512 1257h1v25h-1zM513 1257h1v33h-1zM514 1265h1v23h-1zM515 1269h1v23h-1zM516 1269h1v11h-1zM517 1262h1v29h-1zM518 1248h1v42h-1zM519 1248h1v39h-1zM520 1273h1v15h-1zM521 1273h1v19h-1zM522 1248h1v33h-1zM523 886h1v401h-1zM524 1259h1v31h-1zM525 865h1v48h-1zM526 865h1v53h-1zM527 865h1v66h-1zM528 865h1v64h-1zM529 865h1v64h-1zM531 865h1v54h-1zM532 865h1v23h-1zM533 865h1v30h-1zM534 865h1v34h-1zM534 967h1v143h-1zM535 875h1v16h-1zM535 965h1v58h-1zM536 865h1v103h-1zM536 976h1v41h-1zM537 865h1v144h-1zM538 865h1v175h-1zM539 865h1v102h-1zM540 865h1v166h-1zM541 865h1v99h-1zM542 865h1v111h-1zM543 865h1v113h-1zM544 865h1v12h-1zM545 865h1v114h-1zM546 865h1v26h-1zM548 865h1v28h-1zM552 865h1v269h-1zM553 865h1v537h-1zM555 865h1v537h-1zM556 865h1v269h-1zM557 865h1v99h-1z"/>

<line class="dot" x1="179.5" y1="867" x2="179.5" y2="1402"/>
<line class="dot" x1="203.5" y1="865" x2="203.5" y2="1402"/>
<line class="dot" x1="226.5" y1="868" x2="226.5" y2="1402"/>
<line class="dot" x1="250.5" y1="866" x2="250.5" y2="1402"/>
<line class="dot" x1="274.5" y1="869" x2="274.5" y2="1402"/>
<line class="dot" x1="297.5" y1="867" x2="297.5" y2="1402"/>
<line class="dot" x1="321.5" y1="865" x2="321.5" y2="1402"/>
<line class="dot" x1="345.5" y1="868" x2="345.5" y2="1402"/>
<line class="dot" x1="368.5" y1="866" x2="368.5" y2="1402"/>
<line class="dot" x1="392.5" y1="869" x2="392.5" y2="1402"/>
<line class="dot" x1="416.5" y1="867" x2="416.5" y2="1402"/>
<line class="dot" x1="439.5" y1="865" x2="439.5" y2="1402"/>
<line class="dot" x1="463.5" y1="868" x2="463.5" y2="1402"/>
<line class="dot" x1="487.5" y1="866" x2="487.5" y2="1402"/>
<line class="dot" x1="510.5" y1="869" x2="510.5" y2="1402"/>
<line class="dot" x1="534.5" y1="867" x2="534.5" y2="1402"/>
<rect class="ax" x="156" y="864" width="403" height="1"/>
<rect class="ax" x="156" y="1402" width="403" height="1"/>
<rect class="ax" x="156" y="864" width="1" height="539"/>
<rect class="ax" x="558" y="864" width="1" height="539"/>
<line class="dot" x1="695" y1="998.5" x2="1080" y2="998.5"/>
<rect class="ax" x="685" y="998" width="6" height="1"/>
<rect class="ax" x="1080" y="998" width="6" height="1"/>
<line class="dot" x1="695" y1="1133.5" x2="1080" y2="1133.5"/>
<rect class="ax" x="685" y="1133" width="6" height="1"/>
<rect class="ax" x="1080" y="1133" width="6" height="1"/>
<line class="dot" x1="695" y1="1267.5" x2="1080" y2="1267.5"/>
<rect class="ax" x="685" y="1267" width="6" height="1"/>
<rect class="ax" x="1080" y="1267" width="6" height="1"/>
<rect class="ax" x="685" y="877" width="2" height="1"/>
<rect class="ax" x="1083" y="877" width="3" height="1"/>
<rect class="ax" x="685" y="890" width="2" height="1"/>
<rect class="ax" x="1083" y="890" width="3" height="1"/>
<rect class="ax" x="685" y="904" width="2" height="1"/>
<rect class="ax" x="1083" y="904" width="3" height="1"/>
<rect class="ax" x="685" y="917" width="2" height="1"/>
<rect class="ax" x="1083" y="917" width="3" height="1"/>
<rect class="ax" x="685" y="931" width="2" height="1"/>
<rect class="ax" x="1083" y="931" width="3" height="1"/>
<rect class="ax" x="685" y="944" width="2" height="1"/>
<rect class="ax" x="1083" y="944" width="3" height="1"/>
<rect class="ax" x="685" y="958" width="2" height="1"/>
<rect class="ax" x="1083" y="958" width="3" height="1"/>
<rect class="ax" x="685" y="971" width="2" height="1"/>
<rect class="ax" x="1083" y="971" width="3" height="1"/>
<rect class="ax" x="685" y="985" width="2" height="1"/>
<rect class="ax" x="1083" y="985" width="3" height="1"/>
<rect class="ax" x="685" y="1011" width="2" height="1"/>
<rect class="ax" x="1083" y="1011" width="3" height="1"/>
<rect class="ax" x="685" y="1025" width="2" height="1"/>
<rect class="ax" x="1083" y="1025" width="3" height="1"/>
<rect class="ax" x="685" y="1038" width="2" height="1"/>
<rect class="ax" x="1083" y="1038" width="3" height="1"/>
<rect class="ax" x="685" y="1052" width="2" height="1"/>
<rect class="ax" x="1083" y="1052" width="3" height="1"/>
<rect class="ax" x="685" y="1065" width="2" height="1"/>
<rect class="ax" x="1083" y="1065" width="3" height="1"/>
<rect class="ax" x="685" y="1079" width="2" height="1"/>
<rect class="ax" x="1083" y="1079" width="3" height="1"/>
<rect class="ax" x="685" y="1092" width="2" height="1"/>
<rect class="ax" x="1083" y="1092" width="3" height="1"/>
<rect class="ax" x="685" y="1106" width="2" height="1"/>
<rect class="ax" x="1083" y="1106" width="3" height="1"/>
<rect class="ax" x="685" y="1119" width="2" height="1"/>
<rect class="ax" x="1083" y="1119" width="3" height="1"/>
<rect class="ax" x="685" y="1146" width="2" height="1"/>
<rect class="ax" x="1083" y="1146" width="3" height="1"/>
<rect class="ax" x="685" y="1159" width="2" height="1"/>
<rect class="ax" x="1083" y="1159" width="3" height="1"/>
<rect class="ax" x="685" y="1173" width="2" height="1"/>
<rect class="ax" x="1083" y="1173" width="3" height="1"/>
<rect class="ax" x="685" y="1186" width="2" height="1"/>
<rect class="ax" x="1083" y="1186" width="3" height="1"/>
<rect class="ax" x="685" y="1200" width="2" height="1"/>
<rect class="ax" x="1083" y="1200" width="3" height="1"/>
<rect class="ax" x="685" y="1213" width="2" height="1"/>
<rect class="ax" x="1083" y="1213" width="3" height="1"/>
<rect class="ax" x="685" y="1227" width="2" height="1"/>
<rect class="ax" x="1083" y="1227" width="3" height="1"/>
<rect class="ax" x="685" y="1240" width="2" height="1"/>
<rect class="ax" x="1083" y="1240" width="3" height="1"/>
<rect class="ax" x="685" y="1254" width="2" height="1"/>
<rect class="ax" x="1083" y="1254" width="3" height="1"/>
<rect class="ax" x="685" y="1280" width="2" height="1"/>
<rect class="ax" x="1083" y="1280" width="3" height="1"/>
<rect class="ax" x="685" y="1294" width="2" height="1"/>
<rect class="ax" x="1083" y="1294" width="3" height="1"/>
<rect class="ax" x="685" y="1307" width="2" height="1"/>
<rect class="ax" x="1083" y="1307" width="3" height="1"/>
<rect class="ax" x="685" y="1321" width="2" height="1"/>
<rect class="ax" x="1083" y="1321" width="3" height="1"/>
<rect class="ax" x="685" y="1334" width="2" height="1"/>
<rect class="ax" x="1083" y="1334" width="3" height="1"/>
<rect class="ax" x="685" y="1348" width="2" height="1"/>
<rect class="ax" x="1083" y="1348" width="3" height="1"/>
<rect class="ax" x="685" y="1361" width="2" height="1"/>
<rect class="ax" x="1083" y="1361" width="3" height="1"/>
<rect class="ax" x="685" y="1375" width="2" height="1"/>
<rect class="ax" x="1083" y="1375" width="3" height="1"/>
<rect class="ax" x="685" y="1388" width="2" height="1"/>
<rect class="ax" x="1083" y="1388" width="3" height="1"/>
<rect class="ax" x="944" y="1396" width="1" height="6"/>
<rect class="ax" x="944" y="865" width="1" height="6"/>
<path class="b" d="M700 1400h1v2h-1zM701 1399h1v3h-1zM702 1399h1v3h-1zM703 1400h1v2h-1zM704 1399h1v3h-1zM705 1400h1v2h-1zM706 1399h1v3h-1zM707 1399h1v3h-1zM708 1399h1v3h-1zM709 1400h1v2h-1zM710 1399h1v3h-1zM711 1399h1v3h-1zM712 1400h1v2h-1zM713 1399h1v3h-1zM714 1399h1v3h-1zM715 1400h1v2h-1zM716 1400h1v2h-1zM717 1400h1v2h-1zM718 1400h1v2h-1zM719 1400h1v2h-1zM720 1401h1v1h-1zM721 1400h1v2h-1zM722 1400h1v2h-1zM723 1401h1v1h-1zM724 1399h1v3h-1zM725 1400h1v2h-1zM726 1400h1v2h-1zM727 1400h1v2h-1zM728 1400h1v2h-1zM729 1400h1v2h-1zM730 1400h1v2h-1zM731 1401h1v1h-1zM732 1400h1v2h-1zM733 1400h1v2h-1zM734 1400h1v2h-1zM735 1400h1v2h-1zM736 1400h1v2h-1zM737 1400h1v2h-1zM738 1401h1v1h-1zM739 1401h1v1h-1zM740 1400h1v2h-1zM741 1400h1v2h-1zM742 1400h1v2h-1zM743 1400h1v2h-1zM744 1400h1v2h-1zM745 1400h1v2h-1zM746 1400h1v2h-1zM747 1400h1v2h-1zM748 1399h1v3h-1zM749 1399h1v3h-1zM750 1400h1v2h-1zM751 1400h1v2h-1zM752 1399h1v3h-1zM753 1400h1v2h-1zM754 1400h1v2h-1zM755 1400h1v2h-1zM756 1401h1v1h-1zM757 1400h1v2h-1zM758 1400h1v2h-1zM759 1400h1v2h-1zM760 1400h1v2h-1zM761 1400h1v2h-1zM762 1401h1v1h-1zM763 1400h1v2h-1zM764 1400h1v2h-1zM765 1400h1v2h-1zM766 1400h1v2h-1zM767 1401h1v1h-1zM768 1400h1v2h-1zM769 1399h1v3h-1zM770 1399h1v3h-1zM771 1400h1v2h-1zM772 1401h1v1h-1zM773 1400h1v2h-1zM774 1400h1v2h-1zM775 1400h1v2h-1zM776 1400h1v2h-1zM777 1399h1v3h-1zM778 1400h1v2h-1zM779 1400h1v2h-1zM780 1400h1v2h-1zM781 1400h1v2h-1zM782 1399h1v3h-1zM783 1400h1v2h-1zM784 1401h1v1h-1zM785 1400h1v2h-1zM786 1401h1v1h-1zM787 1399h1v3h-1zM788 1400h1v2h-1zM789 1400h1v2h-1zM790 1401h1v1h-1zM791 1400h1v2h-1zM792 1400h1v2h-1zM793 1400h1v2h-1zM794 1400h1v2h-1zM795 1400h1v2h-1zM796 1401h1v1h-1zM797 1400h1v2h-1zM798 1401h1v1h-1zM799 1399h1v3h-1zM800 1400h1v2h-1zM801 1400h1v2h-1zM802 1400h1v2h-1zM803 1401h1v1h-1zM804 1400h1v2h-1zM805 1400h1v2h-1zM806 1400h1v2h-1zM807 1400h1v2h-1zM808 1400h1v2h-1zM809 1400h1v2h-1zM810 1400h1v2h-1zM811 1400h1v2h-1zM812 1401h1v1h-1zM813 1400h1v2h-1zM814 1399h1v3h-1zM815 1400h1v2h-1zM816 1400h1v2h-1zM817 1401h1v1h-1zM818 1400h1v2h-1zM819 1401h1v1h-1zM820 1400h1v2h-1zM821 1400h1v2h-1zM822 1400h1v2h-1zM823 1400h1v2h-1zM824 1400h1v2h-1zM825 1400h1v2h-1zM826 1400h1v2h-1zM827 1400h1v2h-1zM828 1399h1v3h-1zM829 1400h1v2h-1zM830 1401h1v1h-1zM831 1400h1v2h-1zM832 1399h1v3h-1zM833 1400h1v2h-1zM834 1400h1v2h-1zM835 1400h1v2h-1zM836 1401h1v1h-1zM837 1399h1v3h-1zM838 1400h1v2h-1zM839 1399h1v3h-1zM840 1399h1v3h-1zM841 1400h1v2h-1zM842 1400h1v2h-1zM843 1400h1v2h-1zM844 1399h1v3h-1zM845 1401h1v1h-1zM846 1401h1v1h-1zM847 1400h1v2h-1zM848 1400h1v2h-1zM849 1400h1v2h-1zM850 1401h1v1h-1zM851 1400h1v2h-1zM852 1399h1v3h-1zM853 1400h1v2h-1zM854 1400h1v2h-1zM855 1400h1v2h-1zM856 1400h1v2h-1zM857 1399h1v3h-1zM858 1400h1v2h-1zM859 1400h1v2h-1zM860 1401h1v1h-1zM861 1399h1v3h-1zM862 1399h1v3h-1zM863 1399h1v3h-1zM864 1399h1v3h-1zM865 1399h1v3h-1zM866 1400h1v2h-1zM867 1399h1v3h-1zM868 1400h1v2h-1zM869 1399h1v3h-1zM870 1399h1v3h-1zM871 1400h1v2h-1zM872 1401h1v1h-1zM873 1400h1v2h-1zM874 1400h1v2h-1zM875 1400h1v2h-1zM876 1400h1v2h-1zM877 1401h1v1h-1zM878 1400h1v2h-1zM879 1400h1v2h-1zM880 1400h1v2h-1zM881 1400h1v2h-1zM882 1400h1v2h-1zM883 1400h1v2h-1zM884 1400h1v2h-1zM885 1400h1v2h-1zM886 1400h1v2h-1zM887 1399h1v3h-1zM888 1399h1v3h-1zM889 1400h1v2h-1zM890 1400h1v2h-1zM891 1400h1v2h-1zM892 1400h1v2h-1zM893 1400h1v2h-1zM894 1399h1v3h-1zM895 1397h1v5h-1zM896 1387h1v15h-1zM897 1386h1v16h-1zM898 1020h1v382h-1zM899 1085h1v182h-1zM900 968h1v248h-1zM901 1005h1v210h-1zM902 1066h1v249h-1zM903 1056h1v216h-1zM904 1040h1v237h-1zM905 970h1v242h-1zM906 1012h1v190h-1zM907 943h1v278h-1zM908 865h1v537h-1zM909 1383h1v19h-1zM910 1374h1v28h-1zM911 1393h1v9h-1zM912 1396h1v6h-1zM913 1398h1v4h-1zM914 1398h1v4h-1zM915 1397h1v5h-1zM916 1399h1v3h-1zM917 1400h1v2h-1zM918 1400h1v2h-1zM919 1400h1v2h-1zM920 1399h1v3h-1zM921 1399h1v3h-1zM922 1395h1v7h-1zM923 1396h1v6h-1zM924 1396h1v6h-1zM925 1396h1v6h-1zM926 1397h1v5h-1zM927 1400h1v2h-1zM928 1400h1v2h-1zM929 1399h1v3h-1zM930 1400h1v2h-1zM931 1400h1v2h-1zM932 1401h1v1h-1zM933 1400h1v2h-1zM934 1400h1v2h-1zM935 1400h1v2h-1zM936 1400h1v2h-1zM937 1399h1v3h-1zM938 1400h1v2h-1zM939 1400h1v2h-1zM940 1400h1v2h-1zM941 1400h1v2h-1zM942 1399h1v3h-1zM943 1399h1v3h-1zM944 1400h1v2h-1zM945 1400h1v2h-1zM946 1399h1v3h-1zM947 1399h1v3h-1zM948 1399h1v3h-1zM949 1399h1v3h-1zM950 1399h1v3h-1zM951 1399h1v3h-1zM952 1398h1v4h-1zM953 1389h1v13h-1zM954 1340h1v62h-1zM955 1189h1v213h-1zM956 1152h1v158h-1zM957 1171h1v106h-1zM958 1148h1v146h-1zM959 1153h1v147h-1zM960 1218h1v94h-1zM961 1235h1v93h-1zM962 1237h1v92h-1zM963 1255h1v78h-1zM964 1260h1v78h-1zM965 1263h1v82h-1zM966 1277h1v67h-1zM967 1286h1v76h-1zM968 1309h1v93h-1zM969 1395h1v7h-1zM970 1398h1v4h-1zM971 1399h1v3h-1zM972 1399h1v3h-1zM973 1400h1v2h-1zM974 1398h1v4h-1zM975 1399h1v3h-1zM976 1399h1v3h-1zM977 1399h1v3h-1zM978 1400h1v2h-1zM979 1400h1v2h-1zM980 1399h1v3h-1zM981 1400h1v2h-1zM982 1399h1v3h-1zM983 1401h1v1h-1zM984 1400h1v2h-1zM985 1400h1v2h-1zM986 1400h1v2h-1zM987 1400h1v2h-1zM988 1400h1v2h-1zM989 1399h1v3h-1zM990 1400h1v2h-1zM991 1400h1v2h-1zM992 1399h1v3h-1zM993 1400h1v2h-1zM994 1399h1v3h-1zM995 1397h1v5h-1zM996 1397h1v5h-1zM997 1398h1v4h-1zM998 1397h1v5h-1zM999 1397h1v5h-1zM1000 1397h1v5h-1zM1001 1398h1v4h-1zM1002 1401h1v1h-1zM1003 1400h1v2h-1zM1004 1400h1v2h-1zM1005 1400h1v2h-1zM1006 1400h1v2h-1zM1007 1400h1v2h-1zM1008 1401h1v1h-1zM1009 1400h1v2h-1zM1010 1400h1v2h-1zM1011 1400h1v2h-1zM1012 1400h1v2h-1zM1013 1399h1v3h-1zM1014 1400h1v2h-1zM1015 1401h1v1h-1zM1016 1401h1v1h-1zM1017 1400h1v2h-1zM1018 1400h1v2h-1zM1019 1401h1v1h-1zM1020 1400h1v2h-1zM1021 1400h1v2h-1zM1022 1400h1v2h-1zM1023 1400h1v2h-1zM1024 1401h1v1h-1zM1025 1401h1v1h-1zM1026 1400h1v2h-1zM1027 1400h1v2h-1zM1028 1400h1v2h-1zM1029 1400h1v2h-1zM1030 1401h1v1h-1zM1031 1400h1v2h-1zM1032 1400h1v2h-1zM1033 1400h1v2h-1zM1034 1401h1v1h-1zM1035 1400h1v2h-1zM1036 1399h1v3h-1zM1037 1399h1v3h-1zM1038 1399h1v3h-1zM1039 1399h1v3h-1zM1040 1400h1v2h-1zM1041 1399h1v3h-1zM1042 1399h1v3h-1zM1043 1399h1v3h-1zM1044 1399h1v3h-1zM1045 1399h1v3h-1zM1046 1399h1v3h-1zM1047 1400h1v2h-1zM1048 1399h1v3h-1zM1049 1399h1v3h-1zM1050 1399h1v3h-1zM1051 1400h1v2h-1zM1052 1400h1v2h-1zM1053 1400h1v2h-1zM1054 1400h1v2h-1zM1055 1400h1v2h-1zM1056 1400h1v2h-1zM1057 1400h1v2h-1zM1058 1400h1v2h-1zM1059 1400h1v2h-1zM1060 1400h1v2h-1zM1061 1399h1v3h-1zM1062 1399h1v3h-1zM1063 1400h1v2h-1zM1064 1399h1v3h-1zM1065 1399h1v3h-1zM1066 1399h1v3h-1zM1067 1400h1v2h-1zM1068 1400h1v2h-1zM1069 1400h1v2h-1zM1070 1400h1v2h-1zM1071 1399h1v3h-1zM1072 1400h1v2h-1zM1073 1400h1v2h-1zM1074 1400h1v2h-1zM1075 1400h1v2h-1zM1076 1400h1v2h-1zM1077 1400h1v2h-1zM1078 1400h1v2h-1zM1079 1400h1v2h-1zM1080 1399h1v3h-1zM1081 1400h1v2h-1zM1082 1400h1v2h-1zM1083 1400h1v2h-1zM1084 1400h1v2h-1zM1085 1400h1v2h-1z"/>
<path class="r" d="M886 1399h1v1h-1zM888 1398h1v1h-1zM890 1399h1v1h-1zM891 1399h1v1h-1zM892 1399h1v1h-1zM893 1399h1v1h-1zM894 1397h1v2h-1zM895 1393h1v4h-1zM896 1383h1v4h-1zM897 1282h1v104h-1zM899 1267h1v116h-1zM900 1226h1v148h-1zM901 1232h1v130h-1zM902 1315h1v57h-1zM903 1272h1v82h-1zM904 1277h1v79h-1zM905 1212h1v137h-1zM906 1202h1v151h-1zM907 1221h1v143h-1zM909 1254h1v129h-1zM910 1206h1v168h-1zM911 1336h1v57h-1zM912 1394h1v2h-1zM913 1394h1v4h-1zM916 1398h1v1h-1zM917 1399h1v1h-1zM919 1399h1v1h-1zM928 1399h1v1h-1zM930 1399h1v1h-1zM932 1400h1v1h-1zM933 1399h1v1h-1zM942 1398h1v1h-1zM945 1399h1v1h-1zM946 1396h1v3h-1zM947 1387h1v12h-1zM948 1396h1v3h-1zM949 1393h1v6h-1zM950 1387h1v12h-1zM951 1330h1v69h-1zM952 1380h1v18h-1zM953 1192h1v197h-1zM954 1284h1v56h-1zM955 1147h1v42h-1zM956 1310h1v92h-1zM957 1277h1v117h-1zM958 1304h1v89h-1zM959 1306h1v93h-1zM960 1330h1v62h-1zM961 1328h1v74h-1zM962 1329h1v73h-1zM963 1352h1v46h-1zM964 1338h1v55h-1zM965 1345h1v54h-1zM966 1344h1v49h-1zM967 1261h1v25h-1zM967 1362h1v26h-1zM968 1295h1v14h-1zM969 1307h1v88h-1zM970 1348h1v50h-1zM971 1381h1v18h-1zM973 1399h1v1h-1zM974 1394h1v4h-1zM975 1398h1v1h-1zM979 1399h1v1h-1zM981 1399h1v1h-1zM983 1400h1v1h-1zM986 1399h1v1h-1z"/>

<line class="dot" x1="707.5" y1="867" x2="707.5" y2="1402"/>
<line class="dot" x1="731.5" y1="865" x2="731.5" y2="1402"/>
<line class="dot" x1="754.5" y1="868" x2="754.5" y2="1402"/>
<line class="dot" x1="778.5" y1="866" x2="778.5" y2="1402"/>
<line class="dot" x1="802.5" y1="869" x2="802.5" y2="1402"/>
<line class="dot" x1="825.5" y1="867" x2="825.5" y2="1402"/>
<line class="dot" x1="849.5" y1="865" x2="849.5" y2="1402"/>
<line class="dot" x1="873.5" y1="868" x2="873.5" y2="1402"/>
<line class="dot" x1="896.5" y1="866" x2="896.5" y2="1402"/>
<line class="dot" x1="920.5" y1="869" x2="920.5" y2="1402"/>
<line class="dot" x1="944.5" y1="867" x2="944.5" y2="1402"/>
<line class="dot" x1="967.5" y1="865" x2="967.5" y2="1402"/>
<line class="dot" x1="991.5" y1="868" x2="991.5" y2="1402"/>
<line class="dot" x1="1015.5" y1="866" x2="1015.5" y2="1402"/>
<line class="dot" x1="1038.5" y1="869" x2="1038.5" y2="1402"/>
<line class="dot" x1="1062.5" y1="867" x2="1062.5" y2="1402"/>
<rect class="ax" x="684" y="864" width="403" height="1"/>
<rect class="ax" x="684" y="1402" width="403" height="1"/>
<rect class="ax" x="684" y="864" width="1" height="539"/>
<rect class="ax" x="1086" y="864" width="1" height="539"/>
<line class="pdot" x1="357.00" y1="561.00" x2="357.00" y2="211.00"/>
<line class="pdot" x1="269.50" y1="537.55" x2="444.50" y2="234.45"/>
<line class="pdot" x1="205.45" y1="473.50" x2="508.55" y2="298.50"/>
<line class="pdot" x1="182.00" y1="386.00" x2="532.00" y2="386.00"/>
<line class="pdot" x1="205.45" y1="298.50" x2="508.55" y2="473.50"/>
<line class="pdot" x1="269.50" y1="234.45" x2="444.50" y2="537.55"/>
<circle class="pdot" cx="357" cy="386" r="87.5"/>
<circle class="pdot" cx="357" cy="386" r="4" style="stroke-width:1"/>
<circle cx="356.8" cy="386.5" r="174.5" fill="none" stroke="#000" stroke-width="2.5" shape-rendering="crispEdges"/>
<polyline class="rl" points="222.6,468.0 222.8,466.7 223.1,465.0 223.4,463.1 223.8,460.9 224.1,458.5 224.6,456.0 225.0,453.5 225.5,451.0 226.0,448.6 226.5,446.3 227.0,444.1 227.6,441.9 228.2,439.7 228.9,437.6 229.5,435.4 230.2,433.2 230.9,431.0 231.6,428.9 232.3,426.8 233.0,424.7 233.7,422.7 234.4,420.7 235.1,418.7 235.9,416.7 236.6,414.8 237.4,412.9 238.1,411.0 238.9,409.1 239.8,407.1 240.6,405.2 241.5,403.3 242.4,401.3 243.3,399.4 244.2,397.5 245.1,395.6 246.1,393.7 247.1,391.7 248.1,389.7 249.2,387.7 250.3,385.7 251.5,383.6 252.6,381.5 253.9,379.4 255.1,377.2 256.4,375.0 257.7,372.8 259.1,370.6 260.4,368.4 261.9,366.2 263.3,364.0 264.8,361.8 266.4,359.6 268.0,357.4 269.6,355.1 271.3,352.9 272.9,350.7 274.6,348.5 276.3,346.4 278.0,344.3 279.6,342.3 281.2,340.4 282.8,338.5 284.4,336.7 286.0,335.0 287.6,333.2 289.2,331.6 290.9,329.9 292.5,328.3 294.1,326.6 295.8,325.0 297.5,323.4 299.1,321.8 300.8,320.3 302.5,318.8 304.2,317.3 305.9,315.9 307.6,314.4 309.4,312.9 311.3,311.4 313.2,309.8 315.2,308.2 317.2,306.6 319.3,304.9 321.5,303.2 323.7,301.6 325.9,299.9 328.1,298.3 330.3,296.7 332.6,295.1 334.8,293.6 337.0,292.2 339.2,290.8 341.4,289.4 343.6,288.1 345.9,286.8 348.1,285.5 350.4,284.2 352.7,283.0 355.1,281.8 357.6,280.6 360.1,279.4 362.7,278.2 365.4,277.1 368.1,276.0 370.8,274.9 373.6,273.8 376.4,272.7 379.1,271.7 381.9,270.7 384.7,269.8 387.5,268.9 390.2,268.0 393.0,267.2 395.7,266.4 398.5,265.7 401.3,265.0 404.2,264.3 407.0,263.6 409.9,262.9 412.9,262.2 416.1,261.5 419.5,260.8 423.1,260.1 426.7,259.4 430.4,258.8 433.8,258.2 437.1,257.6 440.0,257.1 442.4,256.6 444.3,256.3"/>
<g class="tx" font-size="25">
<text x="636 650 664" y="128">100</text>
<text x="650 664" y="307">50</text>
<text x="664" y="486">0</text>
<text x="642 650 664" y="665">-50</text>
<text x="754 768 782 796 810 824 838 852 866 873 887 901 915 929 943 957 964 979 996" y="98">20130315 203442 TEC</text>
<text x="731 749 764 771 778 785 793 807 828 835 849 863 870 884 898 905 912 926 933 947 961 968 982 996 1003 1021" y="685">UT, from 20:34 to 20:51 UT</text>
<text transform="translate(620 387.5) rotate(-90)" x="-25 -10 7" y="0">TEC</text>
<text x="136" y="874">3</text>
<text x="115 129 136" y="963">2.5</text>
<text x="136" y="1053">2</text>
<text x="115 129 136" y="1143">1.5</text>
<text x="136" y="1232">1</text>
<text x="115 129 136" y="1322">0.5</text>
<text x="136" y="1412">0</text>
<text x="159.5 173.5 187.5 201.5 215.5 229.5 243.5 257.5 271.5 278.5 292.5 306.5 320.5 334.5 348.5 362.5 369.5 386.5 400.5 407.5 415.5 429.5 443.5 451.5 465.5 479.5 493.5 514.5 532.5 544.5" y="844">20130315 203442 S4 red(150MHz)</text>
<text x="385 399 413 420 434" y="1432">20:45</text>
<text x="203 221 236 243 250 257 265 279 300 307 321 335 342 356 370 377 384 398 405 419 433 440 454 468 475 493" y="1461">UT, from 20:34 to 20:51 UT</text>
<text transform="translate(99 1136) rotate(-90)" x="-15.5 1.5" y="0">S4</text>
<text x="636 650 664" y="874">200</text>
<text x="636 650 664" y="1008">150</text>
<text x="636 650 664" y="1143">100</text>
<text x="650 664" y="1277">50</text>
<text x="664" y="1412">0</text>
<text x="677 691 705 719 733 747 761 775 789 796 810 824 838 852 866 880 887 904 925 939 946 954 968 982 990 1004 1018 1032 1053 1071 1083" y="844">20130315 203442 Amp red(150MHz)</text>
<text x="913 927 941 948 962" y="1432">20:45</text>
<text x="731 749 764 771 778 785 793 807 828 835 849 863 870 884 898 905 912 926 933 947 961 968 982 996 1003 1021" y="1461">UT, from 20:34 to 20:51 UT</text>
<text transform="translate(620 1133.5) rotate(-90)" x="-26 -9 12" y="0">Amp</text>
<text x="349.5" y="203.5">0</text>
<text x="438.8 452.8" y="229.3">30</text>
<text x="509.2 523.2" y="299.8">60</text>
<text x="535 549" y="396.0">90</text>
<text x="502.2 516.2 530.2" y="492.2">120</text>
<text x="431.8 445.8 459.8" y="562.7">150</text>
<text x="335.5 349.5 363.5" y="588.5">180</text>
<text x="239.2 253.2 267.2" y="562.7">210</text>
<text x="168.8 182.8 196.8" y="492.3">240</text>
<text x="143 157 171" y="396.0">270</text>
<text x="168.8 182.8 196.8" y="299.8">300</text>
<text x="239.2 253.2 267.2" y="229.3">330</text>
<text x="461 475" y="366.5">50</text>
<text x="548 562 576" y="355">100</text>
<text x="443.5 457.5 471.5 485.5 499.5 513.5 527.5 534.5 552.5" y="266">205123 UT</text>
<text x="296.5 310.5 324.5 338.5 352.5 366.5 380.5 387.5 405.5" y="333">204305 UT</text>
<text x="222 236 250 264 278 292 306 313 331" y="477">203441 UT</text>
<text x="153 167 181 195 209 223 237 251 265 272 287 295 309 315 329 342 349 363 371 384 391 409 428 445 466 485 502 516 530 544" y="191.5">20130315 Trajectory COSMOS2454</text>
</g>
</svg>
</body></html>
